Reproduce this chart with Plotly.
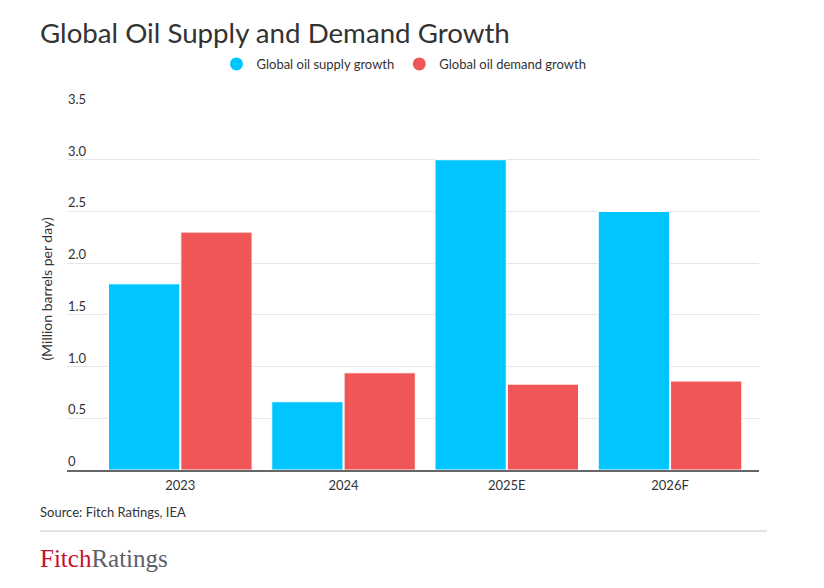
import plotly.graph_objects as go

categories = ["2023", "2024", "2025E", "2026F"]
supply_growth = [1.80, 0.66, 3.00, 2.50]
demand_growth = [2.30, 0.94, 0.83, 0.86]
y_ticks = [0, 0.5, 1.0, 1.5, 2.0, 2.5, 3.0, 3.5]
y_tick_labels = ["0", "0.5", "1.0", "1.5", "2.0", "2.5", "3.0", "3.5"]

SUPPLY = "#00C5FF"
DEMAND = "#F05656"
FONT = "Lato, 'Open Sans', sans-serif"
TXT = "#333333"

W, H = 824, 588
L, R, T, B = 67, 65, 108, 118
PW, PH = W - L - R, H - T - B


def px_x(x):
    return (x - L) / PW


def px_y(y):
    return (H - B - y) / PH


fig = go.Figure()
fig.add_trace(go.Bar(x=categories, y=supply_growth, name="Global oil supply growth",
                     marker=dict(color=SUPPLY, line=dict(color="white", width=1)),
                     showlegend=False))
fig.add_trace(go.Bar(x=categories, y=demand_growth, name="Global oil demand growth",
                     marker=dict(color=DEMAND, line=dict(color="white", width=1)),
                     showlegend=False))
# legend entries with circle markers
fig.add_trace(go.Scatter(x=[None], y=[None], mode="markers", name="Global oil supply growth",
                         marker=dict(color=SUPPLY, size=13, symbol="circle")))
fig.add_trace(go.Scatter(x=[None], y=[None], mode="markers", name="Global oil demand growth",
                         marker=dict(color=DEMAND, size=13, symbol="circle")))

fig.update_layout(
    width=W, height=H,
    margin=dict(l=L, r=R, t=T, b=B),
    paper_bgcolor="white", plot_bgcolor="white",
    font=dict(family=FONT, size=13, color=TXT),
    title=dict(text="Global Oil Supply and Demand Growth", x=40 / W, xanchor="left",
               y=1 - 33 / H, yanchor="middle",
               font=dict(family=FONT, size=27.7, color=TXT)),
    barmode="group", bargap=0.114, bargroupgap=0.015,
    legend=dict(orientation="h", x=px_x(404), xanchor="center", y=px_y(64), yanchor="middle",
                font=dict(size=13, color=TXT), itemwidth=30, tracegroupgap=0),
    xaxis=dict(type="category", range=[-0.694, 3.545], showline=True, linecolor="#666666",
               linewidth=1.5, ticks="", showgrid=False, tickfont=dict(size=13, color=TXT),
               ticklabelstandoff=3, fixedrange=True),
    yaxis=dict(range=[0, 3.5], tickvals=y_ticks, showticklabels=False,
               showgrid=True, gridcolor="#E6E6E6",
               gridwidth=1, zeroline=False, ticks="",
               title=dict(text="(Million barrels per day)", standoff=10,
                          font=dict(size=14, color=TXT))),
)

# y tick labels sitting on top of the gridlines at the left edge
for v, lab in zip(y_ticks, y_tick_labels):
    fig.add_annotation(text=lab, xref="paper", yref="y", x=0, y=v,
                       xanchor="left", yanchor="bottom", yshift=-1, xshift=-1,
                       showarrow=False, font=dict(size=13, color=TXT))

# footer: source, separator, logo
fig.add_annotation(text="Source: Fitch Ratings, IEA", xref="paper", yref="paper",
                   x=px_x(38), y=px_y(512), xanchor="left", yanchor="middle",
                   showarrow=False, font=dict(size=13, color=TXT))
fig.add_shape(type="line", xref="paper", yref="paper",
              x0=px_x(40), x1=px_x(767),
              y0=px_y(531), y1=px_y(531),
              line=dict(color="#C8C8C8", width=1))
fig.add_annotation(text="<span style='color:#C8102E'>Fitch</span><span style='color:#5A6068'>Ratings</span>",
                   xref="paper", yref="paper",
                   x=px_x(38), y=px_y(558), xanchor="left", yanchor="middle",
                   showarrow=False,
                   font=dict(family="'Liberation Serif', 'DejaVu Serif', serif", size=25))

fig.write_html("out.html", config={"displayModeBar": False},
               post_script="document.body.style.margin='0';")
